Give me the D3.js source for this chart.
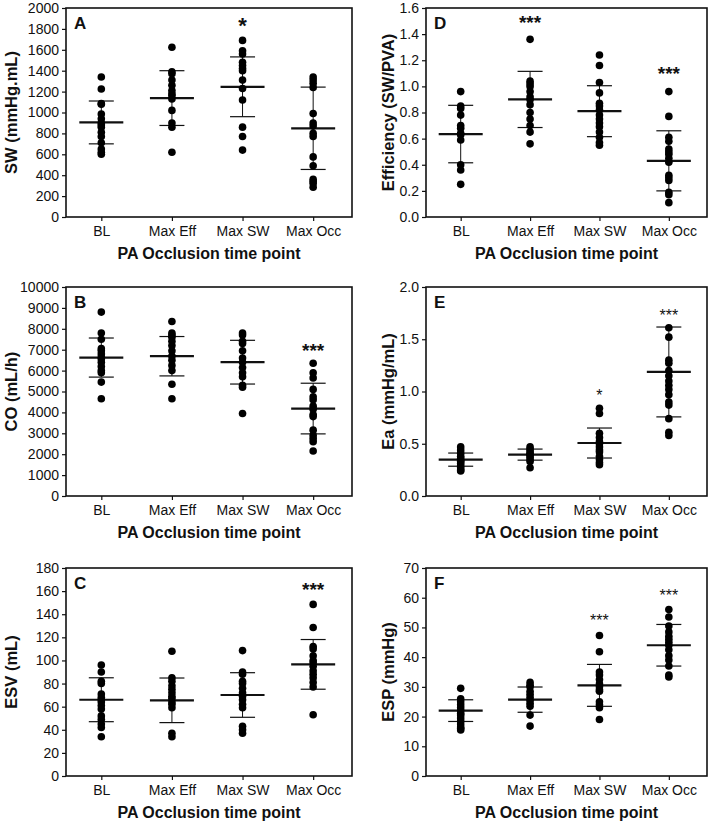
<!DOCTYPE html>
<html><head><meta charset="utf-8">
<script src="https://cdn.jsdelivr.net/npm/d3@7"></script>
<style>body{margin:0;background:#fff}svg{display:block;font-family:"Liberation Sans",Arial,sans-serif}</style>
</head><body><svg id="c" width="709" height="824"></svg>
<script>
const categories = ["BL","Max Eff","Max SW","Max Occ"];
const xTitle = "PA Occlusion time point";

// A: SW
const swValues = [
  [1340,1225,1085,1080,985,940,900,880,860,810,770,710,650,620,600],
  [1625,1390,1370,1310,1260,1210,1180,1160,1130,1020,900,860,620],
  [1690,1590,1560,1480,1450,1420,1400,1310,1230,1120,860,770,640],
  [1340,1310,1280,1240,990,900,870,800,770,575,490,360,340,320,285]];
const swMean = [905,1138,1246,849];
const swSD = [205,262,286,394];
const swTicks = [0,200,400,600,800,1000,1200,1400,1600,1800,2000];
const swSig = ["","","*",""];
const swSigY = [0,0,1880,0];

// D: Efficiency
const effValues = [
  [0.96,0.85,0.83,0.78,0.70,0.68,0.64,0.63,0.59,0.40,0.36,0.25],
  [1.36,1.04,1.02,1.00,0.96,0.92,0.90,0.86,0.80,0.75,0.70,0.65,0.56],
  [1.24,1.16,1.03,0.95,0.87,0.85,0.82,0.78,0.75,0.72,0.69,0.65,0.61,0.57,0.55],
  [0.96,0.77,0.61,0.58,0.52,0.50,0.48,0.45,0.42,0.32,0.30,0.28,0.19,0.17,0.11]];
const effMean = [0.635,0.90,0.81,0.43];
const effSD = [0.22,0.215,0.195,0.23];
const effTicks = [0,0.2,0.4,0.6,0.8,1.0,1.2,1.4,1.6];
const effSig = ["","***","","***"];
const effSigY = [0,1.52,0,1.13];

// B: CO
const coValues = [
  [8800,7800,7500,7050,6950,6800,6650,6550,6400,6200,6000,5900,5450,4650],
  [8350,7800,7700,7600,7400,7200,6950,6700,6500,6250,6000,5350,4650],
  [7800,7700,7400,7300,6950,6600,6400,6150,5900,5700,5300,5200,3950],
  [6350,5900,5650,5100,4750,4600,4300,4150,3900,3800,3150,2900,2750,2600,2150]];
const coMean = [6624,6688,6403,4184];
const coSD = [935,942,1046,1212];
const coTicks = [0,1000,2000,3000,4000,5000,6000,7000,8000,9000,10000];
const coSig = ["","","","***"];
const coSigY = [0,0,0,7179];

// E: Ea
const eaValues = [
  [0.47,0.44,0.41,0.38,0.36,0.34,0.33,0.31,0.29,0.27,0.25,0.24],
  [0.47,0.45,0.43,0.41,0.40,0.39,0.37,0.35,0.33,0.27],
  [0.84,0.79,0.60,0.56,0.52,0.50,0.47,0.44,0.42,0.38,0.35,0.32,0.30],
  [1.61,1.52,1.30,1.27,1.20,1.15,1.10,1.06,1.02,0.97,0.90,0.87,0.74,0.61,0.58]];
const eaMean = [0.348,0.396,0.507,1.187];
const eaSD = [0.063,0.053,0.1435,0.43];
const eaTicks = [0,0.5,1.0,1.5,2.0];
const eaSig = ["","","*","***"];
const eaSigY = [0,0,1.0,1.76];

// C: ESV
const esvValues = [
  [96,90,82,80,71,68,66,64,61,58,52,49,45,42,34],
  [108,85,82,78,75,72,69,67,64,62,59,37,34],
  [108.5,90,88,82,80,76,72,69,66,62,59,43,40,37],
  [148.5,128.5,112,110,104,100,98,95,91,88,85,81,77,53]];
const esvMean = [66,65.5,70.1,96.6];
const esvSD = [19,19.3,19.3,21.5];
const esvTicks = [0,20,40,60,80,100,120,140,160,180];
const esvSig = ["","","","***"];
const esvSigY = [0,0,0,165];

// F: ESP
const espValues = [
  [29.5,26,25,24,23,22,21,20.5,19.5,18.5,17.5,16.5,16,15.5],
  [31.5,30.5,30,28.5,27.5,26.5,25.5,24.5,23.5,20.5,16.8],
  [47.3,41.8,35,34,32.5,31,30,29,28.5,25,24,23,19],
  [56,53.5,50.5,48.5,47,46,45,44,42.5,40.5,39,37,34,33.3]];
const espMean = [22,25.7,30.5,44];
const espSD = [3.65,4.25,7.05,7.0];
const espTicks = [0,10,20,30,40,50,60,70];
const espSig = ["","","***","***"];
const espSigY = [0,0,53.5,62];

const panels = [
  {letter:"A", col:0,row:0, ylabel:"SW (mmHg.mL)", values:swValues, mean:swMean, sd:swSD, ticks:swTicks, fmt:d3.format("d"), sig:swSig, sigY:swSigY, sigSize:22, sigBold:true},
  {letter:"D", col:1,row:0, ylabel:"Efficiency (SW/PVA)", values:effValues, mean:effMean, sd:effSD, ticks:effTicks, fmt:d3.format(".1f"), sig:effSig, sigY:effSigY, sigSize:19, sigBold:true},
  {letter:"B", col:0,row:1, ylabel:"CO (mL/h)", values:coValues, mean:coMean, sd:coSD, ticks:coTicks, fmt:d3.format("d"), sig:coSig, sigY:coSigY, sigSize:19, sigBold:true},
  {letter:"E", col:1,row:1, ylabel:"Ea (mmHg/mL)", values:eaValues, mean:eaMean, sd:eaSD, ticks:eaTicks, fmt:d3.format(".1f"), sig:eaSig, sigY:eaSigY, sigSize:16, sigBold:false},
  {letter:"C", col:0,row:2, ylabel:"ESV (mL)", values:esvValues, mean:esvMean, sd:esvSD, ticks:esvTicks, fmt:d3.format("d"), sig:esvSig, sigY:esvSigY, sigSize:19, sigBold:true},
  {letter:"F", col:1,row:2, ylabel:"ESP (mmHg)", values:espValues, mean:espMean, sd:espSD, ticks:espTicks, fmt:d3.format("d"), sig:espSig, sigY:espSigY, sigSize:16, sigBold:false}
];

const colX = [[66,352],[426,707]];
const rowY = [[8,217],[287,496],[568,776]];
const labelX = [11,388];

const svg = d3.select("#c");

panels.forEach(p => {
  const [x0,x1] = colX[p.col];
  const [y0,y1] = rowY[p.row];
  const x = d3.scaleLinear().domain([0.5,4.55]).range([x0,x1]);
  const y = d3.scaleLinear().domain([p.ticks[0], p.ticks[p.ticks.length-1]]).range([y1,y0]);
  const g = svg.append("g");

  // y axis
  const ya = g.append("g").attr("transform",`translate(${x0},0)`)
    .call(d3.axisLeft(y).tickValues(p.ticks).tickFormat(p.fmt).tickSize(4).tickPadding(3));
  ya.select(".domain").remove();
  ya.selectAll("text").attr("font-size",14).attr("fill","#111").attr("font-family","Liberation Sans, Arial, sans-serif");
  ya.selectAll("line").attr("stroke","#111").attr("stroke-width",1.2);

  // x axis
  const xa = g.append("g").attr("transform",`translate(0,${y1})`)
    .call(d3.axisBottom(x).tickValues([1,2,3,4]).tickFormat((d,i)=>categories[i]).tickSize(4).tickPadding(5));
  xa.select(".domain").remove();
  xa.selectAll("text").attr("font-size",14).attr("fill","#111").attr("font-family","Liberation Sans, Arial, sans-serif");
  xa.selectAll("line").attr("stroke","#111").attr("stroke-width",1.2);

  // frame
  g.append("rect").attr("x",x0).attr("y",y0).attr("width",x1-x0).attr("height",y1-y0)
    .attr("fill","none").attr("stroke","#111").attr("stroke-width",1.6);

  // panel letter
  g.append("text").attr("x",x0+8).attr("y",y0+21).attr("font-size",17).attr("font-weight","bold").attr("fill","#111").text(p.letter);

  // y label
  g.append("text").attr("transform",`translate(${labelX[p.col]+6},${(y0+y1)/2}) rotate(-90)`)
    .attr("text-anchor","middle").attr("font-size",16.5).attr("font-weight","bold").attr("fill","#111").text(p.ylabel);

  // x title
  g.append("text").attr("x",(x0+x1)/2).attr("y",y1+42).attr("text-anchor","middle")
    .attr("font-size",16).attr("font-weight","bold").attr("fill","#111").text(xTitle);

  // SD error bars
  const eb = g.append("g").selectAll("g").data(categories).join("g");
  eb.append("line").attr("x1",(d,i)=>x(i+1)).attr("x2",(d,i)=>x(i+1))
    .attr("y1",(d,i)=>y(p.mean[i]-p.sd[i])).attr("y2",(d,i)=>y(p.mean[i]+p.sd[i]))
    .attr("stroke","#111").attr("stroke-width",1);
  [-1,1].forEach(s=>{
    eb.append("line").attr("x1",(d,i)=>x(i+1)-12.5).attr("x2",(d,i)=>x(i+1)+12.5)
      .attr("y1",(d,i)=>y(p.mean[i]+s*p.sd[i])).attr("y2",(d,i)=>y(p.mean[i]+s*p.sd[i]))
      .attr("stroke","#111").attr("stroke-width",1.2);
  });

  // dots
  p.values.forEach((vals,i)=>{
    g.append("g").selectAll("circle").data(vals).join("circle")
      .attr("cx",x(i+1)).attr("cy",d=>y(d)).attr("r",3.8).attr("fill","#000");
  });

  // mean lines
  eb.append("line").attr("x1",(d,i)=>x(i+1)-22).attr("x2",(d,i)=>x(i+1)+22)
    .attr("y1",(d,i)=>y(p.mean[i])).attr("y2",(d,i)=>y(p.mean[i]))
    .attr("stroke","#111").attr("stroke-width",2.2);

  // significance
  p.sig.forEach((s,i)=>{
    if(!s) return;
    g.append("text").attr("x",x(i+1)).attr("y",y(p.sigY[i])+0.57*p.sigSize)
      .attr("text-anchor","middle").attr("font-size",p.sigSize)
      .attr("font-weight",p.sigBold?"bold":"normal").attr("fill","#111").text(s);
  });
});
</script></body></html>
